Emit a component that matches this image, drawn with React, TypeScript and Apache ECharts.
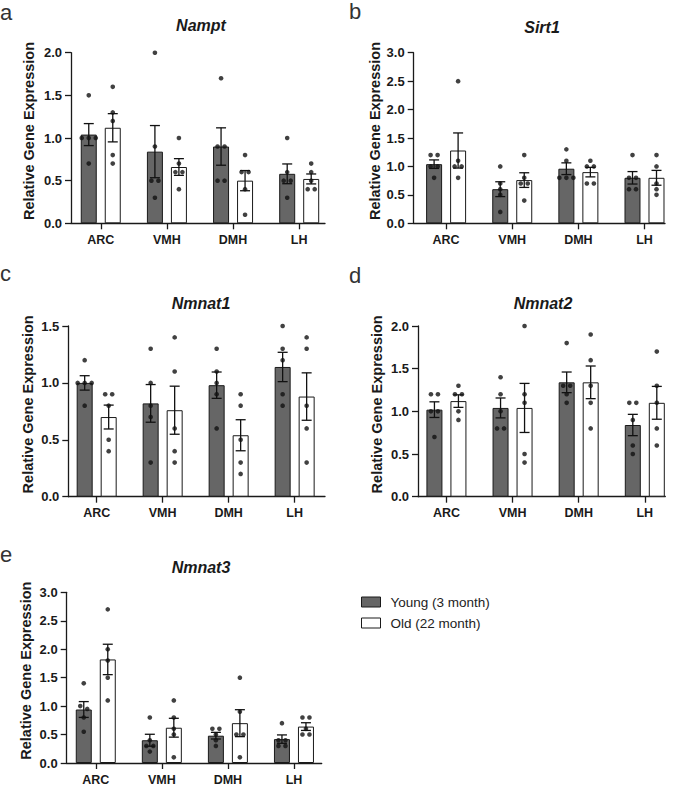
import React, { useEffect, useRef } from 'react';
import * as echarts from 'echarts';

// ---------- data ----------
const categories = ['ARC', 'VMH', 'DMH', 'LH'];
const groupNames = ['Young (3 month)', 'Old (22 month)'];
const genes = ['Nampt', 'Sirt1', 'Nmnat1', 'Nmnat2', 'Nmnat3'];
const panelLetters = ['a', 'b', 'c', 'd', 'e'];
const yMaxes = [2.0, 3.0, 1.5, 2.0, 3.0];
const yTickStep = 0.5;

// individual animals, per region (ARC, VMH, DMH, LH)
const namptYoung = [[1.5, 1.0, 1.0, 1.0, 0.7], [2.0, 0.9, 0.5, 0.5, 0.3], [1.7, 0.9, 0.9, 0.5, 0.5], [1.0, 0.6, 0.5, 0.5, 0.3]];
const namptOld = [[1.6, 1.3, 1.2, 0.8, 0.7], [1.0, 0.7, 0.6, 0.6, 0.4], [0.8, 0.6, 0.6, 0.4, 0.1], [0.7, 0.6, 0.5, 0.4, 0.4]];
const sirt1Young = [[1.2, 1.2, 1.0, 1.0, 0.8], [1.0, 0.7, 0.6, 0.5, 0.2], [1.3, 1.1, 0.8, 0.8, 0.8], [1.2, 0.8, 0.8, 0.6, 0.6]];
const sirt1Old = [[2.5, 1.1, 1.0, 1.0, 0.8], [1.2, 0.8, 0.7, 0.7, 0.4], [1.1, 1.0, 1.0, 0.7, 0.7], [1.2, 1.0, 0.7, 0.6, 0.5]];
const nmnat1Young = [[1.2, 1.0, 1.0, 1.0, 0.8], [1.3, 1.0, 0.8, 0.7, 0.3], [1.3, 1.1, 1.0, 0.9, 0.6], [1.5, 1.3, 1.2, 0.9, 0.8]];
const nmnat1Old = [[0.9, 0.9, 0.8, 0.5, 0.4], [1.4, 1.1, 0.6, 0.4, 0.3], [0.9, 0.8, 0.5, 0.3, 0.2], [1.4, 1.3, 0.8, 0.6, 0.3]];
const nmnat2Young = [[1.2, 1.2, 1.0, 1.0, 0.7], [1.4, 1.2, 1.0, 0.8, 0.8], [1.8, 1.3, 1.3, 1.2, 1.1], [1.1, 1.1, 0.9, 0.6, 0.5]];
const nmnat2Old = [[1.3, 1.2, 1.2, 1.0, 0.9], [2.0, 1.2, 1.1, 0.5, 0.4], [1.9, 1.6, 1.3, 1.1, 0.8], [1.7, 1.3, 1.1, 0.8, 0.6]];
const nmnat3Young = [[1.4, 1.0, 0.95, 0.8, 0.55], [0.8, 0.4, 0.3, 0.3, 0.2], [0.6, 0.6, 0.5, 0.4, 0.3], [0.7, 0.4, 0.4, 0.3, 0.3]];
const nmnat3Old = [[2.7, 2.0, 1.8, 1.5, 1.1], [1.1, 0.8, 0.6, 0.5, 0.1], [1.5, 0.9, 0.5, 0.5, 0.1], [0.8, 0.8, 0.6, 0.5, 0.5]];

const youngData = [namptYoung, sirt1Young, nmnat1Young, nmnat2Young, nmnat3Young];
const oldData = [namptOld, sirt1Old, nmnat1Old, nmnat2Old, nmnat3Old];

// ---------- layout (pixels) ----------
const layout = [
  { left: 71, top: 52.7, width: 254, height: 170.6, xMin: -0.45, xMax: 3.39, titleX: 201, titleY: 17, letterX: 0, letterY: 1, nameGap: 35 },
  { left: 413.7, top: 52.7, width: 251.3, height: 170.6, xMin: -0.49, xMax: 3.31, titleX: 542, titleY: 19, letterX: 349, letterY: 0, nameGap: 30 },
  { left: 68.3, top: 326, width: 256.7, height: 170.7, xMin: -0.43, xMax: 3.46, titleX: 201, titleY: 295, letterX: 0, letterY: 262, nameGap: 33 },
  { left: 418, top: 326, width: 247.3, height: 170.7, xMin: -0.43, xMax: 3.31, titleX: 543, titleY: 295, letterX: 349, letterY: 264, nameGap: 34 },
  { left: 66.7, top: 592.3, width: 255, height: 171.7, xMin: -0.44, xMax: 3.42, titleX: 201, titleY: 559, letterX: 0, letterY: 543, nameGap: 33.5 },
];

const FONT = 'Arial, "Liberation Sans", Helvetica, sans-serif';
const INK = '#1a1a1a';
const YOUNG_FILL = '#666666';
const BAR_W = 16;
const HALF_OFFSET = 12; // bar center offset from category center
const JITTER = 7;

const mean = (a: number[]) => a.reduce((s, v) => s + v, 0) / a.length;
const sem = (a: number[]) => {
  const m = mean(a);
  const v = a.reduce((s, x) => s + (x - m) * (x - m), 0) / (a.length - 1);
  return Math.sqrt(v) / Math.sqrt(a.length);
};

// horizontal spread of overlapping dots (like a column scatter)
const jitterOffsets = (vals: number[], tol: number) => {
  const idx = vals.map((v, i) => i).sort((a, b) => vals[b] - vals[a]);
  const out = new Array(vals.length).fill(0);
  let cluster: number[] = [];
  const flush = () => {
    const n = cluster.length;
    cluster.forEach((id, k) => { out[id] = (k - (n - 1) / 2) * JITTER; });
    cluster = [];
  };
  idx.forEach((id) => {
    if (cluster.length && Math.abs(vals[cluster[0]] - vals[id]) > tol) flush();
    cluster.push(id);
  });
  flush();
  return out;
};

function buildOption() {
  const grid: any[] = [];
  const xAxis: any[] = [];
  const yAxis: any[] = [];
  const series: any[] = [];
  const title: any[] = [];
  const catIdx = categories.map((_, i) => i);

  layout.forEach((p, i) => {
    grid.push({ left: p.left, top: p.top, width: p.width, height: p.height });
    xAxis.push({
      type: 'value', gridIndex: i, min: p.xMin, max: p.xMax,
      axisLine: { show: true, onZero: false, lineStyle: { color: INK, width: 1.3 } },
      axisTick: { show: true, customValues: catIdx, length: 6, lineStyle: { color: INK, width: 1.3 } },
      axisLabel: {
        customValues: catIdx, formatter: (v: number) => categories[Math.round(v)] ?? '',
        fontFamily: FONT, fontWeight: 'bold', fontSize: 12.5, color: INK, margin: 10,
      },
      splitLine: { show: false },
    });
    yAxis.push({
      type: 'value', gridIndex: i, min: 0, max: yMaxes[i], interval: yTickStep,
      axisLine: { show: true, onZero: false, lineStyle: { color: INK, width: 1.3 } },
      axisTick: { show: true, length: 6, lineStyle: { color: INK, width: 1.3 } },
      axisLabel: { formatter: (v: number) => v.toFixed(1), fontFamily: FONT, fontWeight: 'bold', fontSize: 13, color: INK, margin: 9 },
      splitLine: { show: false },
      name: 'Relative Gene Expression', nameLocation: 'middle', nameGap: p.nameGap,
      nameTextStyle: { fontFamily: FONT, fontWeight: 'bold', fontSize: 14.5, color: INK, padding: [0, 0, 0, 14] },
    });

    const groups = [youngData[i], oldData[i]];
    groups.forEach((g, gi) => {
      series.push({
        type: 'bar', name: groupNames[gi], xAxisIndex: i, yAxisIndex: i,
        data: g.map((vals, j) => [j, mean(vals)]),
        barWidth: BAR_W, barGap: '50%',
        itemStyle: { color: gi === 0 ? YOUNG_FILL : '#ffffff', borderColor: INK, borderWidth: 1 },
        z: 2, silent: true,
      });
    });

    // error bars (mean ± SEM)
    const errData: number[][] = [];
    groups.forEach((g, gi) => g.forEach((vals, j) => errData.push([j, mean(vals), sem(vals), gi === 0 ? -1 : 1])));
    series.push({
      type: 'custom', name: 'err' + i, xAxisIndex: i, yAxisIndex: i, data: errData, z: 3, silent: true,
      renderItem: (params: any, api: any) => {
        const x = api.value(0), m = api.value(1), s = api.value(2), side = api.value(3);
        const top = api.coord([x, m + s]);
        const bot = api.coord([x, m - s]);
        const cx = top[0] + side * HALF_OFFSET;
        const style = { stroke: '#111', lineWidth: 1.3 };
        return {
          type: 'group',
          children: [
            { type: 'line', shape: { x1: cx, y1: top[1], x2: cx, y2: bot[1] }, style },
            { type: 'line', shape: { x1: cx - 5, y1: top[1], x2: cx + 5, y2: top[1] }, style },
            { type: 'line', shape: { x1: cx - 5, y1: bot[1], x2: cx + 5, y2: bot[1] }, style },
          ],
        };
      },
    });

    // individual points
    const pts: any[] = [];
    const tol = yMaxes[i] * 0.03;
    groups.forEach((g, gi) => g.forEach((vals, j) => {
      const offs = jitterOffsets(vals, tol);
      vals.forEach((v, k) => {
        pts.push({ value: [j, v], symbolOffset: [(gi === 0 ? -1 : 1) * HALF_OFFSET + offs[k], 0] });
      });
    }));
    series.push({
      type: 'scatter', name: 'pts' + i, xAxisIndex: i, yAxisIndex: i, data: pts,
      symbol: 'circle', symbolSize: 4.6, itemStyle: { color: '#111' }, z: 4, silent: true,
    });

    title.push({
      text: genes[i], left: p.titleX, top: p.titleY, textAlign: 'center', padding: 0,
      textStyle: { fontFamily: FONT, fontSize: 16, fontWeight: 'bold', fontStyle: 'italic', color: INK },
    });
    title.push({
      text: panelLetters[i], left: p.letterX, top: p.letterY, padding: 0,
      textStyle: { fontFamily: FONT, fontSize: 22, fontWeight: 'normal', color: '#333' },
    });
  });

  return {
    animation: false,
    backgroundColor: '#ffffff',
    title,
    grid,
    xAxis,
    yAxis,
    series,
    legend: {
      data: [
        { name: groupNames[0], itemStyle: { color: YOUNG_FILL, borderColor: INK, borderWidth: 1 } },
        { name: groupNames[1], itemStyle: { color: '#ffffff', borderColor: INK, borderWidth: 1 } },
      ],
      orient: 'vertical', left: 361, top: 595, padding: 0,
      icon: 'rect', itemWidth: 19, itemHeight: 10, itemGap: 7,
      textStyle: { fontFamily: FONT, fontSize: 13.5, color: '#222', padding: [0, 0, 0, 5] },
      selectedMode: false,
    },
  };
}

export default function App() {
  const ref = useRef<HTMLDivElement>(null);
  useEffect(() => {
    document.body.style.margin = '0';
    if (!ref.current) return;
    const chart = echarts.init(ref.current, undefined, { renderer: 'svg' });
    chart.setOption(buildOption() as any);
    return () => chart.dispose();
  }, []);
  return <div ref={ref} style={{ width: 674, height: 786 }} />;
}
